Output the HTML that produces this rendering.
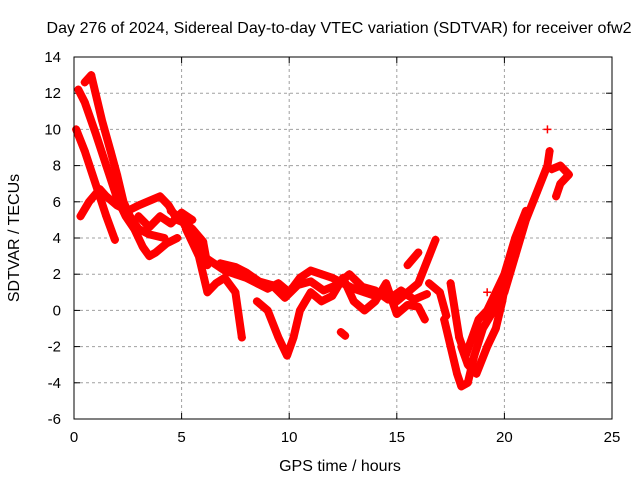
<!DOCTYPE html>
<html><head><meta charset="utf-8"><style>
body{margin:0;background:#fff;}
svg text{font-family:"Liberation Sans",sans-serif;font-size:15px;fill:#000;}
svg text.big{font-size:16px;}
</style></head><body>
<svg id="chart" width="640" height="480" xmlns="http://www.w3.org/2000/svg">
<rect width="640" height="480" fill="#fff"/>
<text class="big" x="339" y="33" text-anchor="middle" textLength="585">Day 276 of 2024, Sidereal Day-to-day VTEC variation (SDTVAR) for receiver ofw2</text>
<text class="big" x="340" y="471" text-anchor="middle">GPS time / hours</text>
<text class="big" x="19" y="238" text-anchor="middle" transform="rotate(-90 19 238)">SDTVAR / TECUs</text>
<g id="grid"></g><g id="marks"></g>
<rect x="74" y="57" width="538" height="362" fill="none" stroke="#000" stroke-width="1"/>
</svg>
<script>
const xTicks=[0,5,10,15,20,25];
const yTicks=[-6,-4,-2,0,2,4,6,8,10,12,14];
const traceA=[[0.2,12.2],[0.5,11.5],[1.0,9.8],[1.5,8],[2.0,6.2],[2.4,5.2],[2.8,4.5],[3.2,3.5],[3.5,3],[3.8,3.2],[4.3,3.7],[4.8,4]];
const traceB=[[0.1,10],[0.5,8.8],[1.0,7],[1.5,5.2],[1.9,3.9]];
const traceC=[[0.5,12.6],[0.8,13],[1.0,12],[1.3,10.5],[1.7,8.8],[2.0,7.5],[2.3,6],[2.6,5.2],[3.0,4.5],[3.5,4.2],[4.2,4]];
const traceD=[[0.3,5.2],[0.7,6],[1.2,6.7],[1.5,6.3],[2.0,5.8],[2.5,5.5],[3.0,5.8],[3.6,6.1],[4.0,6.3],[4.4,5.8],[4.8,5],[5.2,4.8],[5.5,4.5],[6,3.8],[6.2,2.5]];
const traceE=[[4.5,5.5],[5,5],[5.5,4],[6,3],[6.5,2.6],[7,2.2],[7.5,2],[8,1.8],[8.5,1.5],[9,1.2],[9.5,1.5],[10,1],[10.5,1.8],[11,2.2],[11.5,2],[12,1.8],[12.5,1.5],[13,1.2],[13.5,1],[14,0.8],[14.5,1],[15,0.5],[15.5,1],[16,1.5],[16.5,3],[16.8,3.9]];
const traceF=[[5.2,4.5],[5.8,3],[6.2,1],[6.6,1.5],[7,1.8],[7.5,1],[7.8,-1.5]];
const traceG=[[8.5,0.5],[9,0],[9.5,-1.5],[9.9,-2.5],[10.2,-1.5],[10.5,0],[11,1],[11.5,0.5],[12,0.8],[12.5,1.8],[13,0.5],[13.5,0],[14,0.5],[14.5,1.5],[15,-0.2],[15.5,0.3],[16,0.2],[16.3,-0.5]];
const traceH=[[15.5,2.5],[16,3.2]];
const traceI=[[16.5,1.5],[17,1],[17.3,-0.3]];
const traceJ=[[17.2,-0.5],[17.5,-2],[17.8,-3.5],[18,-4.2],[18.3,-4],[18.6,-2.5],[19,-1],[19.5,0],[20,1],[20.5,3],[21,5],[21.5,6.5],[22,8],[22.1,8.8]];
const traceK=[[17.5,1.5],[17.7,0],[17.9,-1.5],[18.2,-2.5],[18.5,-1.5],[18.8,-0.5],[19.2,0],[19.6,1],[20,2],[20.5,4],[21,5.5]];
const traceL=[[18,-2],[18.3,-3],[18.7,-3.5],[19.2,-2],[19.6,-1],[19.9,0.5],[20.2,2.5]];
const traceM=[[22.2,7.8],[22.6,8],[23,7.5],[22.6,7],[22.4,6.3]];
const traceN=[[12.4,-1.2],[12.6,-1.4]];
const traceO=[[6.8,2.6],[7.5,2.4],[8,2.1],[8.6,1.6],[9.2,1.4],[9.8,0.7],[10.4,1.4],[11,1.6],[11.6,1.1],[12.2,1.4],[12.8,2],[13.4,1.3],[14,1.1],[14.6,0.6],[15.2,1.1],[15.8,0.6],[16.4,0.9]];
const traceP=[[3,5.2],[3.5,4.6],[4,5.2],[4.5,4.8],[5,5.4],[5.5,5]];
const outliers=[[22,10],[19.2,1]];
const traces=[traceA,traceB,traceC,traceD,traceE,traceF,traceG,traceH,traceI,traceJ,traceK,traceL,traceM,traceN,traceO,traceP];

const NS="http://www.w3.org/2000/svg";
const X0=74,X1=612,Y0=419,Y1=57;
function sx(v){return X0+(v-0)/(25-0)*(X1-X0);}
function sy(v){return Y0-(v+6)/20*(Y0-Y1);}
const grid=document.getElementById('grid'),marks=document.getElementById('marks');
function mk(t,a,p){const e=document.createElementNS(NS,t);for(const k in a)e.setAttribute(k,a[k]);p.appendChild(e);return e;}
xTicks.forEach(t=>{
 const x=sx(t);
 if(t>0&&t<25){const l=mk('line',{x1:x,x2:x,y1:Y1,y2:Y0,stroke:'#a0a0a0','stroke-dasharray':'3,3'},grid);
 
 }
 mk('line',{x1:x,x2:x,y1:Y0,y2:Y0-6,stroke:'#000'},grid);
 mk('line',{x1:x,x2:x,y1:Y1,y2:Y1+6,stroke:'#000'},grid);
 const tx=mk('text',{x:x,y:Y0+23,'text-anchor':'middle'},grid);tx.textContent=t;
 
 
});
yTicks.forEach(t=>{
 const y=sy(t);
 if(t>-6&&t<14){const l=mk('line',{x1:X0,x2:X1,y1:y,y2:y,stroke:'#a0a0a0','stroke-dasharray':'3,3'},grid);
 
 }
 mk('line',{x1:X0,x2:X0+6,y1:y,y2:y,stroke:'#000'},grid);
 mk('line',{x1:X1,x2:X1-6,y1:y,y2:y,stroke:'#000'},grid);
 const tx=mk('text',{x:X0-13,y:y+5,'text-anchor':'end'},grid);tx.textContent=t;
 
 
});
function plus(x,y,g){mk('path',{d:`M${x-4} ${y}H${x+4}M${x} ${y-4}V${y+4}`,stroke:'#f00','stroke-width':1.5},g);}
traces.forEach((tr,i)=>{
 const g=mk('g',{},marks);
 
 
 mk('polyline',{points:tr.map(p=>sx(p[0])+','+sy(p[1])).join(' '),fill:'none',stroke:'#f00','stroke-width':8,'stroke-linejoin':'round','stroke-linecap':'round'},g);
 tr.forEach(p=>plus(sx(p[0]),sy(p[1]),g));
});
outliers.forEach(p=>{
 const g=mk('g',{},marks);
 
 
 plus(sx(p[0]),sy(p[1]),g);
});
</script>
</body></html>
